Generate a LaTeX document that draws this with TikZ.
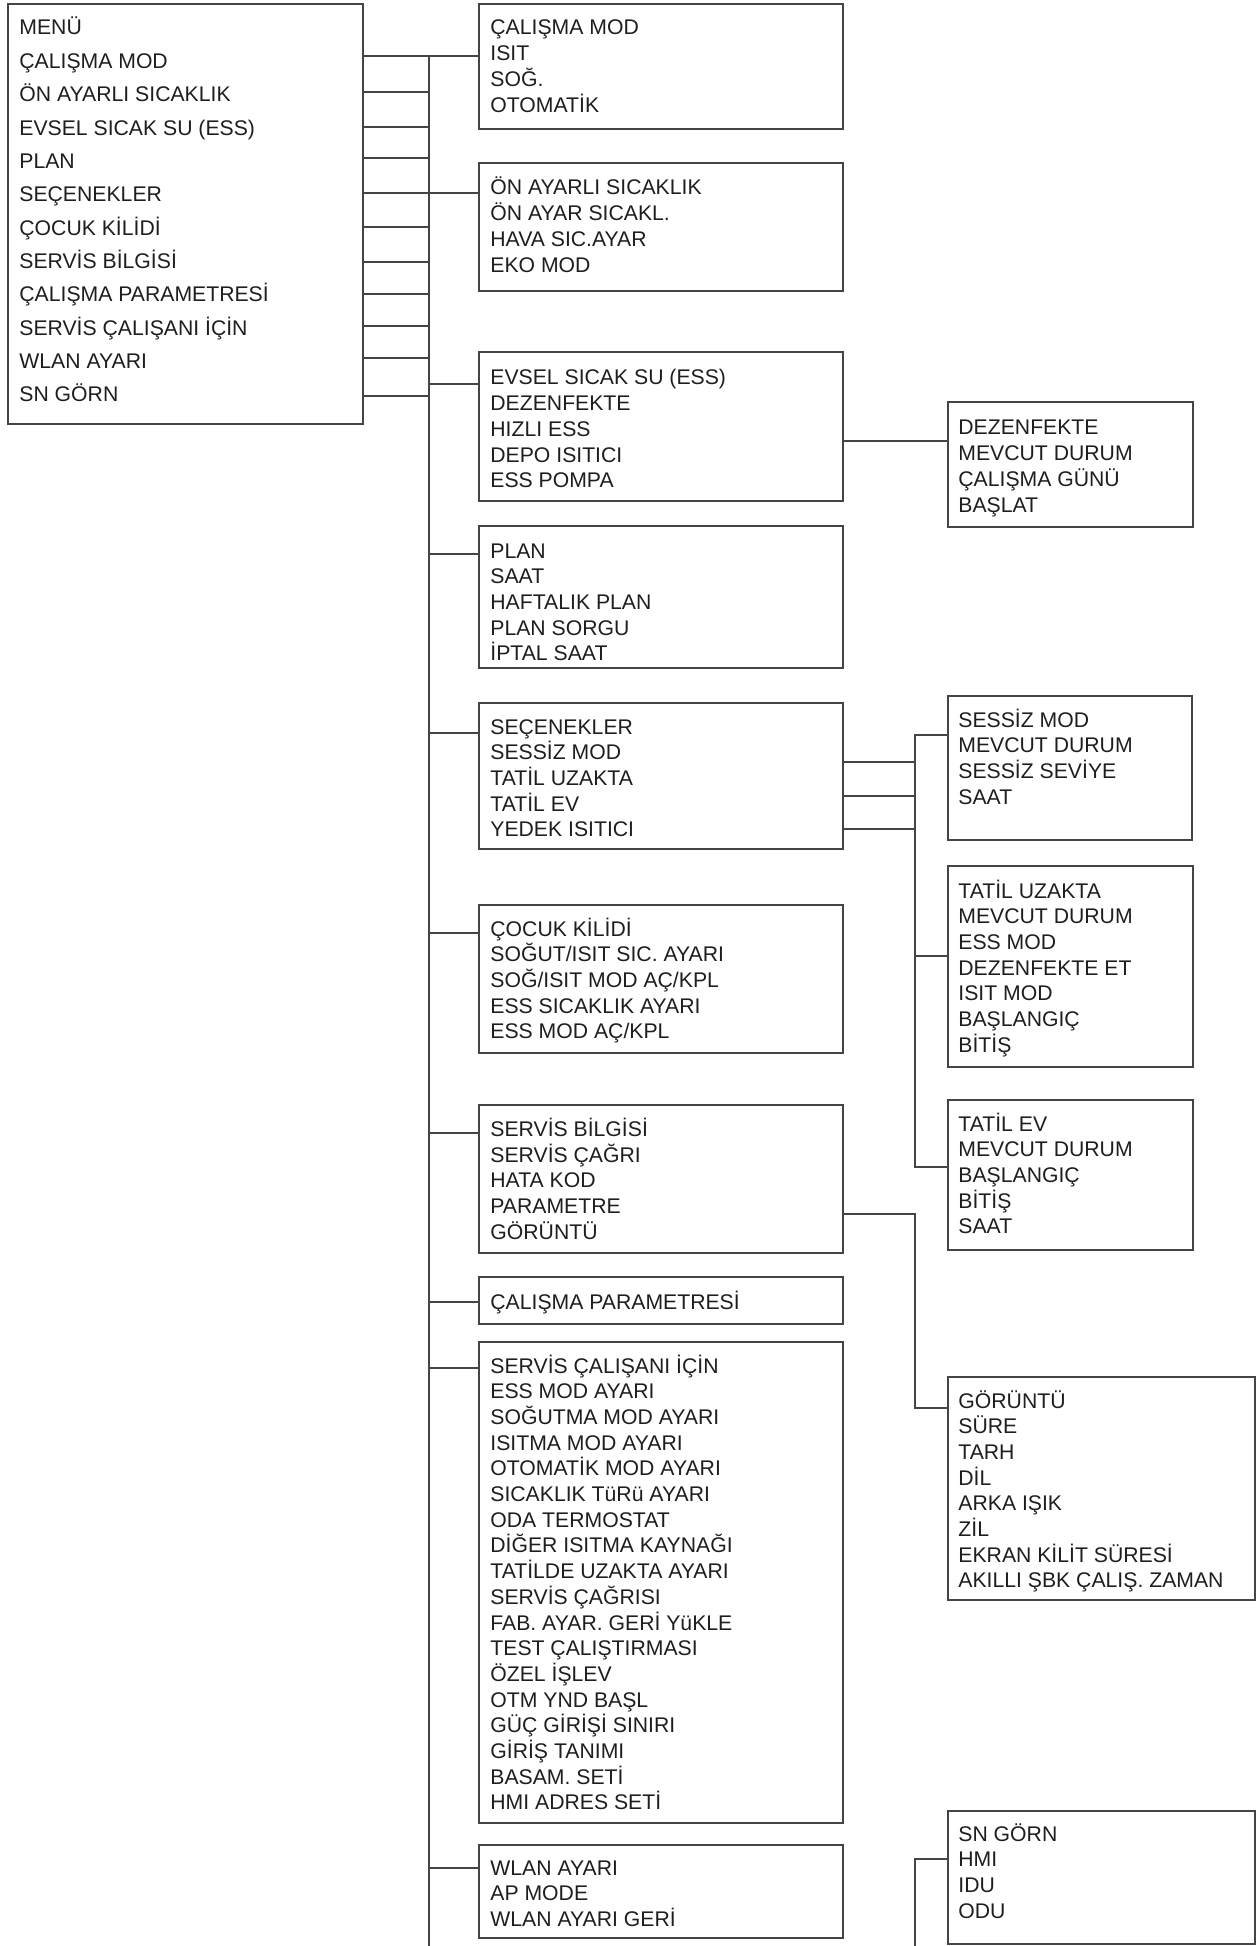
\documentclass[tikz,border=0pt]{standalone}
\usepackage{fontspec}
\setmainfont{Liberation Sans}
\usetikzlibrary{fit}
\definecolor{linec}{HTML}{444444}
\definecolor{textc}{HTML}{1E1E1E}
\newcommand\sst{\rule[-3.05pt]{0pt}{12.85pt}}
\newcommand\mst{\rule[-4.68pt]{0pt}{16.68pt}}
\tikzset{
  x=0.5pt, y=-0.5pt,
  boxn/.style={draw=linec, line width=0.7pt, rectangle, inner sep=0pt},
  subtxt/.style={inner sep=0pt, anchor=north west, align=left, text=textc, font=\fontsize{10.6pt}{12.85pt}\selectfont},
  menutxt/.style={inner sep=0pt, anchor=north west, align=left, text=textc, font=\fontsize{10.6pt}{16.68pt}\selectfont},
  conn/.style={draw=linec, line width=0.7pt},
}
\begin{document}
\begin{tikzpicture}
\useasboundingbox (0,0) rectangle (1256,1946);
% ---------- boxes ----------
\node[boxn, fit={(8,4) (363,424)}] (menu) {};
\node[boxn, fit={(479,4) (843,129)}] (b1) {};
\node[boxn, fit={(479,163) (843,291)}] (b2) {};
\node[boxn, fit={(479,352) (843,501)}] (b3) {};
\node[boxn, fit={(479,526) (843,668)}] (b4) {};
\node[boxn, fit={(479,703) (843,849)}] (b5) {};
\node[boxn, fit={(479,905) (843,1053)}] (b6) {};
\node[boxn, fit={(479,1105) (843,1253)}] (b7) {};
\node[boxn, fit={(479,1277) (843,1324)}] (b8) {};
\node[boxn, fit={(479,1342) (843,1823)}] (b9) {};
\node[boxn, fit={(479,1845) (843,1938)}] (b10) {};
\node[boxn, fit={(948,402) (1193,527)}] (c1) {};
\node[boxn, fit={(948,696) (1192,840)}] (c2) {};
\node[boxn, fit={(948,866) (1193,1067)}] (c3) {};
\node[boxn, fit={(948,1100) (1193,1250)}] (c4) {};
\node[boxn, fit={(948,1377) (1255,1600)}] (c5) {};
\node[boxn, fit={(948,1811) (1255,1944)}] (c6) {};
% ---------- texts ----------
\node[menutxt] (menut) at (19,10.6) {\mst MENÜ\\ \mst ÇALIŞMA MOD\\ \mst ÖN AYARLI SICAKLIK\\ \mst EVSEL SICAK SU (ESS)\\ \mst PLAN\\ \mst SEÇENEKLER\\ \mst ÇOCUK KİLİDİ\\ \mst SERVİS BİLGİSİ\\ \mst ÇALIŞMA PARAMETRESİ\\ \mst SERVİS ÇALIŞANI İÇİN\\ \mst WLAN AYARI\\ \mst SN GÖRN};
\node[subtxt] (b1t) at (490,15) {\sst ÇALIŞMA MOD\\ \sst ISIT\\ \sst SOĞ.\\ \sst OTOMATİK};
\node[subtxt] (b2t) at (490,175) {\sst ÖN AYARLI SICAKLIK\\ \sst ÖN AYAR SICAKL.\\ \sst HAVA SIC.AYAR\\ \sst EKO MOD};
\node[subtxt] (b3t) at (490,365) {\sst EVSEL SICAK SU (ESS)\\ \sst DEZENFEKTE\\ \sst HIZLI ESS\\ \sst DEPO ISITICI\\ \sst ESS POMPA};
\node[subtxt] (b4t) at (490,538) {\sst PLAN\\ \sst SAAT\\ \sst HAFTALIK PLAN\\ \sst PLAN SORGU\\ \sst İPTAL SAAT};
\node[subtxt] (b5t) at (490,714) {\sst SEÇENEKLER\\ \sst SESSİZ MOD\\ \sst TATİL UZAKTA\\ \sst TATİL EV\\ \sst YEDEK ISITICI};
\node[subtxt] (b6t) at (490,916) {\sst ÇOCUK KİLİDİ\\ \sst SOĞUT/ISIT SIC. AYARI\\ \sst SOĞ/ISIT MOD AÇ/KPL\\ \sst ESS SICAKLIK AYARI\\ \sst ESS MOD AÇ/KPL};
\node[subtxt] (b7t) at (490,1116.5) {\sst SERVİS BİLGİSİ\\ \sst SERVİS ÇAĞRI\\ \sst HATA KOD\\ \sst PARAMETRE\\ \sst GÖRÜNTÜ};
\node[subtxt] (b8t) at (490,1289) {\sst ÇALIŞMA PARAMETRESİ};
\node[subtxt] (b9t) at (490,1353) {\sst SERVİS ÇALIŞANI İÇİN\\ \sst ESS MOD AYARI\\ \sst SOĞUTMA MOD AYARI\\ \sst ISITMA MOD AYARI\\ \sst OTOMATİK MOD AYARI\\ \sst SICAKLIK TüRü AYARI\\ \sst ODA TERMOSTAT\\ \sst DİĞER ISITMA KAYNAĞI\\ \sst TATİLDE UZAKTA AYARI\\ \sst SERVİS ÇAĞRISI\\ \sst FAB. AYAR. GERİ YüKLE\\ \sst TEST ÇALIŞTIRMASI\\ \sst ÖZEL İŞLEV\\ \sst OTM YND BAŞL\\ \sst GÜÇ GİRİŞİ SINIRI\\ \sst GİRİŞ TANIMI\\ \sst BASAM. SETİ\\ \sst HMI ADRES SETİ};
\node[subtxt] (b10t) at (490,1855) {\sst WLAN AYARI\\ \sst AP MODE\\ \sst WLAN AYARI GERİ};
\node[subtxt] (c1t) at (958,415) {\sst DEZENFEKTE\\ \sst MEVCUT DURUM\\ \sst ÇALIŞMA GÜNÜ\\ \sst BAŞLAT};
\node[subtxt] (c2t) at (958,707) {\sst SESSİZ MOD\\ \sst MEVCUT DURUM\\ \sst SESSİZ SEVİYE\\ \sst SAAT};
\node[subtxt] (c3t) at (958,878) {\sst TATİL UZAKTA\\ \sst MEVCUT DURUM\\ \sst ESS MOD\\ \sst DEZENFEKTE ET\\ \sst ISIT MOD\\ \sst BAŞLANGIÇ\\ \sst BİTİŞ};
\node[subtxt] (c4t) at (958,1111) {\sst TATİL EV\\ \sst MEVCUT DURUM\\ \sst BAŞLANGIÇ\\ \sst BİTİŞ\\ \sst SAAT};
\node[subtxt] (c5t) at (958,1388) {\sst GÖRÜNTÜ\\ \sst SÜRE\\ \sst TARH\\ \sst DİL\\ \sst ARKA IŞIK\\ \sst ZİL\\ \sst EKRAN KİLİT SÜRESİ\\ \sst AKILLI ŞBK ÇALIŞ. ZAMAN};
\node[subtxt] (c6t) at (958,1821) {\sst SN GÖRN\\ \sst HMI\\ \sst IDU\\ \sst ODU};
% ---------- trunk ----------
\coordinate (tTop) at (429,56);
\coordinate (tBot) at (429,1946);
\draw[conn] (tTop) -- (tBot);
% menu item lines
\foreach \yy [count=\i] in {56,92,127,158,193,227,262,294,326,358,396}{
  \coordinate (m\i) at (429,\yy);
  \draw[conn] (m\i -| menu.east) -- (m\i);
}
% branches to sub boxes
\foreach \yy/\bb in {56/b1,193/b2,384/b3,554/b4,733/b5,933/b6,1133/b7,1302/b8,1368/b9,1868/b10}{
  \coordinate (k\bb) at (429,\yy);
  \draw[conn] (k\bb) -- (k\bb -| \bb.west);
}
% EVSEL -> DEZENFEKTE
\coordinate (e1) at (900,441);
\draw[conn] (e1 -| b3.east) -- (e1 -| c1.west);
% SECENEKLER -> sub boxes
\coordinate (v1) at (915,735);
\coordinate (v2) at (915,956);
\coordinate (v3) at (915,1167);
\draw[conn] (v1 -| c2.west) -- (v1) -- (v3) -- (v3 -| c4.west);
\draw[conn] (v2) -- (v2 -| c3.west);
\foreach \yy [count=\i] in {762,796,829}{
  \coordinate (s\i) at (915,\yy);
  \draw[conn] (s\i -| b5.east) -- (s\i);
}
% SERVIS BILGISI -> GORUNTU
\coordinate (w1) at (915,1214);
\coordinate (w2) at (915,1408);
\draw[conn] (w1 -| b7.east) -- (w1) -- (w2) -- (w2 -| c5.west);
% SN GORN
\coordinate (z1) at (915,1859);
\coordinate (z2) at (915,1946);
\draw[conn] (z2) -- (z1) -- (z1 -| c6.west);
\end{tikzpicture}
\end{document}
